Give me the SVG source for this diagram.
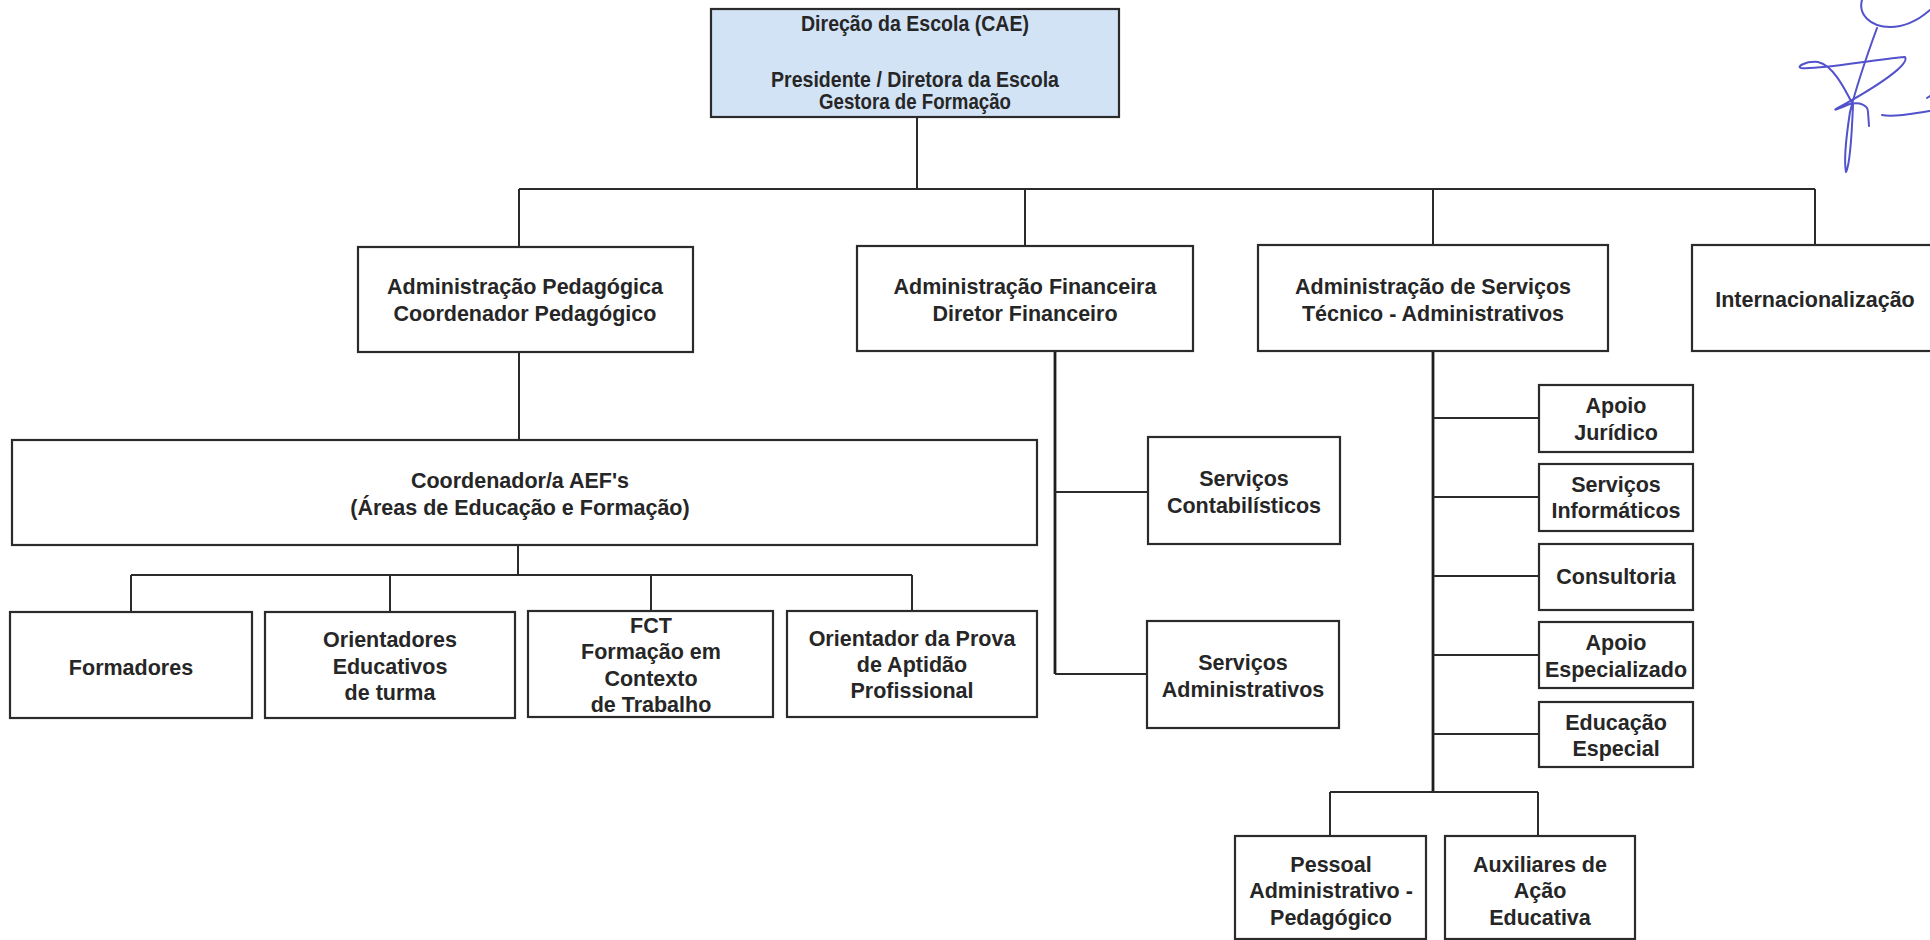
<svg xmlns="http://www.w3.org/2000/svg" width="1930" height="940" viewBox="0 0 1930 940">
<style>
.box{fill:#fff;stroke:#2b2b2b;stroke-width:2.2}
.top{fill:#d3e3f6}
.t{font-family:"Liberation Sans",Arial,sans-serif;font-weight:bold;font-size:21.5px;fill:#262626;text-anchor:middle}
.c{fill:none;stroke:#2b2b2b;stroke-width:2}
.cb{fill:none;stroke:#1e1e1e;stroke-width:2.8}
.sig{fill:none;stroke:#5252cc;stroke-width:2;stroke-linecap:round;stroke-linejoin:round}
</style>
<rect width="1930" height="940" fill="#fff"/>
<g id="connectors">
<path class="c" d="M917 117V189M519 189H1815M519 189V247M1025 189V246M1433 189V245M1815 189V245"/>
<path class="c" d="M519 352V440M518 545V575M131 575H912M131 575V612M390 575V612M651 575V611M912 575V611"/>
<path class="cb" d="M1055 351V674"/>
<path class="c" d="M1055 492H1148M1055 674H1147"/>
<path class="cb" d="M1433 351V792"/>
<path class="c" d="M1433 418H1539M1433 497H1539M1433 576H1539M1433 655H1539M1433 734H1539M1330 792H1538M1330 792V836M1538 792V836"/>
</g>
<g id="n_direcao"><rect class="box top" x="711" y="9" width="408" height="108"/>
<text class="t" x="915" y="31" textLength="228" lengthAdjust="spacingAndGlyphs">Direção da Escola (CAE)</text>
<text class="t" x="915" y="87" textLength="288" lengthAdjust="spacingAndGlyphs">Presidente / Diretora da Escola</text>
<text class="t" x="915" y="109" textLength="192" lengthAdjust="spacingAndGlyphs">Gestora de Formação</text></g>
<g id="n_admped"><rect class="box" x="358" y="247" width="335" height="105"/>
<text class="t" x="525" y="294">Administração Pedagógica</text>
<text class="t" x="525" y="321">Coordenador Pedagógico</text></g>
<g id="n_admfin"><rect class="box" x="857" y="246" width="336" height="105"/>
<text class="t" x="1025" y="294">Administração Financeira</text>
<text class="t" x="1025" y="321">Diretor Financeiro</text></g>
<g id="n_admserv"><rect class="box" x="1258" y="245" width="350" height="106"/>
<text class="t" x="1433" y="294">Administração de Serviços</text>
<text class="t" x="1433" y="321">Técnico - Administrativos</text></g>
<g id="n_intern"><rect class="box" x="1692" y="245" width="250" height="106"/>
<text class="t" x="1815" y="307">Internacionalização</text></g>
<g id="n_coord"><rect class="box" x="12" y="440" width="1025" height="105"/>
<text class="t" x="520" y="488">Coordenador/a AEF's</text>
<text class="t" x="520" y="515">(Áreas de Educação e Formação)</text></g>
<g id="n_formadores"><rect class="box" x="10" y="612" width="242" height="106"/>
<text class="t" x="131" y="675">Formadores</text></g>
<g id="n_orientadores"><rect class="box" x="265" y="612" width="250" height="106"/>
<text class="t" x="390" y="647">Orientadores</text>
<text class="t" x="390" y="674">Educativos</text>
<text class="t" x="390" y="700">de turma</text></g>
<g id="n_fct"><rect class="box" x="528" y="611" width="245" height="106"/>
<text class="t" x="651" y="633">FCT</text>
<text class="t" x="651" y="659">Formação em</text>
<text class="t" x="651" y="686">Contexto</text>
<text class="t" x="651" y="712">de Trabalho</text></g>
<g id="n_prova"><rect class="box" x="787" y="611" width="250" height="106"/>
<text class="t" x="912" y="646">Orientador da Prova</text>
<text class="t" x="912" y="672">de Aptidão</text>
<text class="t" x="912" y="698">Profissional</text></g>
<g id="n_contab"><rect class="box" x="1148" y="437" width="192" height="107"/>
<text class="t" x="1244" y="486">Serviços</text>
<text class="t" x="1244" y="513">Contabilísticos</text></g>
<g id="n_servadmin"><rect class="box" x="1147" y="621" width="192" height="107"/>
<text class="t" x="1243" y="670">Serviços</text>
<text class="t" x="1243" y="697">Administrativos</text></g>
<g id="n_juridico"><rect class="box" x="1539" y="385" width="154" height="67"/>
<text class="t" x="1616" y="413">Apoio</text>
<text class="t" x="1616" y="440">Jurídico</text></g>
<g id="n_informaticos"><rect class="box" x="1539" y="464" width="154" height="67"/>
<text class="t" x="1616" y="492">Serviços</text>
<text class="t" x="1616" y="518">Informáticos</text></g>
<g id="n_consultoria"><rect class="box" x="1539" y="544" width="154" height="66"/>
<text class="t" x="1616" y="584">Consultoria</text></g>
<g id="n_especializado"><rect class="box" x="1539" y="622" width="154" height="66"/>
<text class="t" x="1616" y="650">Apoio</text>
<text class="t" x="1616" y="677">Especializado</text></g>
<g id="n_especial"><rect class="box" x="1539" y="702" width="154" height="65"/>
<text class="t" x="1616" y="730">Educação</text>
<text class="t" x="1616" y="756">Especial</text></g>
<g id="n_pessoal"><rect class="box" x="1235" y="836" width="191" height="103"/>
<text class="t" x="1331" y="872">Pessoal</text>
<text class="t" x="1331" y="898">Administrativo -</text>
<text class="t" x="1331" y="925">Pedagógico</text></g>
<g id="n_auxiliares"><rect class="box" x="1445" y="836" width="190" height="103"/>
<text class="t" x="1540" y="872">Auxiliares de</text>
<text class="t" x="1540" y="898">Ação</text>
<text class="t" x="1540" y="925">Educativa</text></g>
<g id="signature">
<path class="sig" d="M1862 0C1858 14 1870 27 1890 27C1908 27 1922 17 1930 10"/>
<path class="sig" d="M1877 28C1866 58 1856 88 1850 112C1846 138 1844 162 1846 172C1850 165 1852 130 1853 105"/>
<path class="sig" d="M1853 105C1843 85 1832 65 1818 62C1805 61 1796 67 1801 68C1820 70 1870 60 1905 57C1910 64 1880 85 1836 109C1833 111 1840 108 1850 104C1860 102 1868 105 1868 112L1869 126"/>
<path class="sig" d="M1882 115C1895 118 1915 113 1930 111"/>
<path class="sig" d="M1927 98L1930 96"/>
</g>
</svg>
